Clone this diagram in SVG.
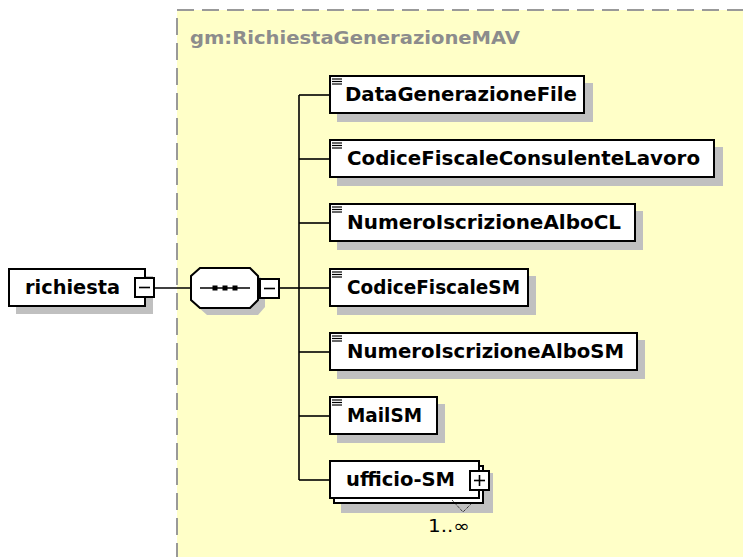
<svg xmlns="http://www.w3.org/2000/svg" width="743" height="557" viewBox="0 0 743 557">
<style>
.bg{fill:#ffffc8;stroke:#999999;stroke-width:2;stroke-dasharray:17 8}
.box{fill:#ffffff;stroke:#000000;stroke-width:2}
.sh{fill:#c0c0c0}
.lbl{font-family:"DejaVu Sans",Verdana,sans-serif;font-weight:bold;font-size:19px;fill:#000000}
.title{font-family:"DejaVu Sans",Verdana,sans-serif;font-weight:bold;font-size:17px;fill:#8c8c8c}
.ln{stroke:#000000;stroke-width:1.6;fill:none}
.ic{stroke:#000000;stroke-width:1.2}
.card{font-family:"DejaVu Sans",Verdana,sans-serif;font-size:17px;fill:#000000}
</style>
<rect x="0" y="0" width="743" height="557" fill="#ffffff"/>
<rect class="bg" x="177" y="10" width="700" height="700"/>
<text class="title" x="190" y="44" textLength="330" lengthAdjust="spacingAndGlyphs">gm:RichiestaGenerazioneMAV</text>

<g id="connectors">
  <line class="ln" x1="155" y1="288" x2="191" y2="288"/>
  <line class="ln" x1="279" y1="288" x2="299" y2="288"/>
  <line class="ln" x1="299" y1="95" x2="299" y2="480"/>
  <line class="ln" x1="299" y1="95" x2="330" y2="95"/>
  <line class="ln" x1="299" y1="159" x2="330" y2="159"/>
  <line class="ln" x1="299" y1="223" x2="330" y2="223"/>
  <line class="ln" x1="299" y1="288" x2="330" y2="288"/>
  <line class="ln" x1="299" y1="352" x2="330" y2="352"/>
  <line class="ln" x1="299" y1="416" x2="330" y2="416"/>
  <line class="ln" x1="299" y1="480" x2="330" y2="480"/>
</g>

<g id="richiesta">
  <rect class="sh" x="16" y="276" width="137" height="38"/>
  <rect class="box" x="9" y="269" width="136" height="37"/>
  <text class="lbl" x="25" y="294" textLength="95" lengthAdjust="spacingAndGlyphs">richiesta</text>
  <rect class="box" x="135" y="278" width="19" height="19"/>
  <line class="ln" x1="139" y1="287.5" x2="150" y2="287.5"/>
</g>

<g id="sequence">
  <polygon class="sh" points="207,275 258,275 265,282 265,307 258,315 207,315 198,307 198,282"/>
  <polygon class="box" points="200,268 250,268 258,276 258,300 250,308 200,308 191,300 191,276"/>
  <line class="ln" x1="200" y1="288" x2="250" y2="288"/>
  <rect x="212.5" y="285.5" width="5" height="5" fill="#000"/>
  <rect x="222.5" y="285.5" width="5" height="5" fill="#000"/>
  <rect x="232.5" y="285.5" width="5" height="5" fill="#000"/>
  <rect class="box" x="260" y="279" width="19" height="19"/>
  <line class="ln" x1="264" y1="288.5" x2="275" y2="288.5"/>
</g>

<g id="DataGenerazioneFile">
  <rect class="sh" x="337" y="83" width="256" height="39"/>
  <rect class="box" x="330" y="76" width="254" height="37"/>
  <line class="ic" x1="332" y1="79" x2="342" y2="79"/><line class="ic" x1="332" y1="81.5" x2="342" y2="81.5"/><line class="ic" x1="332" y1="84" x2="342" y2="84"/>
  <text class="lbl" x="345" y="101" textLength="232" lengthAdjust="spacingAndGlyphs">DataGenerazioneFile</text>
</g>

<g id="CodiceFiscaleConsulenteLavoro">
  <rect class="sh" x="337" y="147" width="386" height="39"/>
  <rect class="box" x="330" y="140" width="384" height="37"/>
  <line class="ic" x1="332" y1="143" x2="342" y2="143"/><line class="ic" x1="332" y1="145.5" x2="342" y2="145.5"/><line class="ic" x1="332" y1="148" x2="342" y2="148"/>
  <text class="lbl" x="347" y="165" textLength="353" lengthAdjust="spacingAndGlyphs">CodiceFiscaleConsulenteLavoro</text>
</g>

<g id="NumeroIscrizioneAlboCL">
  <rect class="sh" x="337" y="211" width="306" height="39"/>
  <rect class="box" x="330" y="204" width="305" height="37"/>
  <line class="ic" x1="332" y1="207" x2="342" y2="207"/><line class="ic" x1="332" y1="209.5" x2="342" y2="209.5"/><line class="ic" x1="332" y1="212" x2="342" y2="212"/>
  <text class="lbl" x="347" y="229" textLength="274" lengthAdjust="spacingAndGlyphs">NumeroIscrizioneAlboCL</text>
</g>

<g id="CodiceFiscaleSM">
  <rect class="sh" x="337" y="276" width="199" height="39"/>
  <rect class="box" x="330" y="269" width="198" height="37"/>
  <line class="ic" x1="332" y1="272" x2="342" y2="272"/><line class="ic" x1="332" y1="274.5" x2="342" y2="274.5"/><line class="ic" x1="332" y1="277" x2="342" y2="277"/>
  <text class="lbl" x="347" y="294" textLength="173" lengthAdjust="spacingAndGlyphs">CodiceFiscaleSM</text>
</g>

<g id="NumeroIscrizioneAlboSM">
  <rect class="sh" x="337" y="340" width="308" height="39"/>
  <rect class="box" x="330" y="333" width="307" height="37"/>
  <line class="ic" x1="332" y1="336" x2="342" y2="336"/><line class="ic" x1="332" y1="338.5" x2="342" y2="338.5"/><line class="ic" x1="332" y1="341" x2="342" y2="341"/>
  <text class="lbl" x="347" y="358" textLength="277" lengthAdjust="spacingAndGlyphs">NumeroIscrizioneAlboSM</text>
</g>

<g id="MailSM">
  <rect class="sh" x="337" y="404" width="108" height="39"/>
  <rect class="box" x="330" y="397" width="107" height="37"/>
  <line class="ic" x1="332" y1="400" x2="342" y2="400"/><line class="ic" x1="332" y1="402.5" x2="342" y2="402.5"/><line class="ic" x1="332" y1="405" x2="342" y2="405"/>
  <text class="lbl" x="347" y="422" textLength="75" lengthAdjust="spacingAndGlyphs">MailSM</text>
</g>

<g id="ufficio-SM">
  <rect class="sh" x="341" y="473" width="152" height="40"/>
  <rect class="box" x="334" y="466" width="149" height="37"/>
  <rect class="box" x="330" y="461" width="149" height="37"/>
  <text class="lbl" x="346" y="486" textLength="109" lengthAdjust="spacingAndGlyphs">ufficio-SM</text>
  <rect class="box" x="470" y="471" width="19" height="19"/>
  <line class="ln" x1="474" y1="480.5" x2="485" y2="480.5"/>
  <line class="ln" x1="479.5" y1="475" x2="479.5" y2="486"/>
  <polyline points="452,500 463,512 472,503" fill="none" stroke="#000" stroke-width="1" stroke-dasharray="1 1"/>
  <text class="card" x="428" y="532" textLength="42" lengthAdjust="spacingAndGlyphs">1..∞</text>
</g>
</svg>
